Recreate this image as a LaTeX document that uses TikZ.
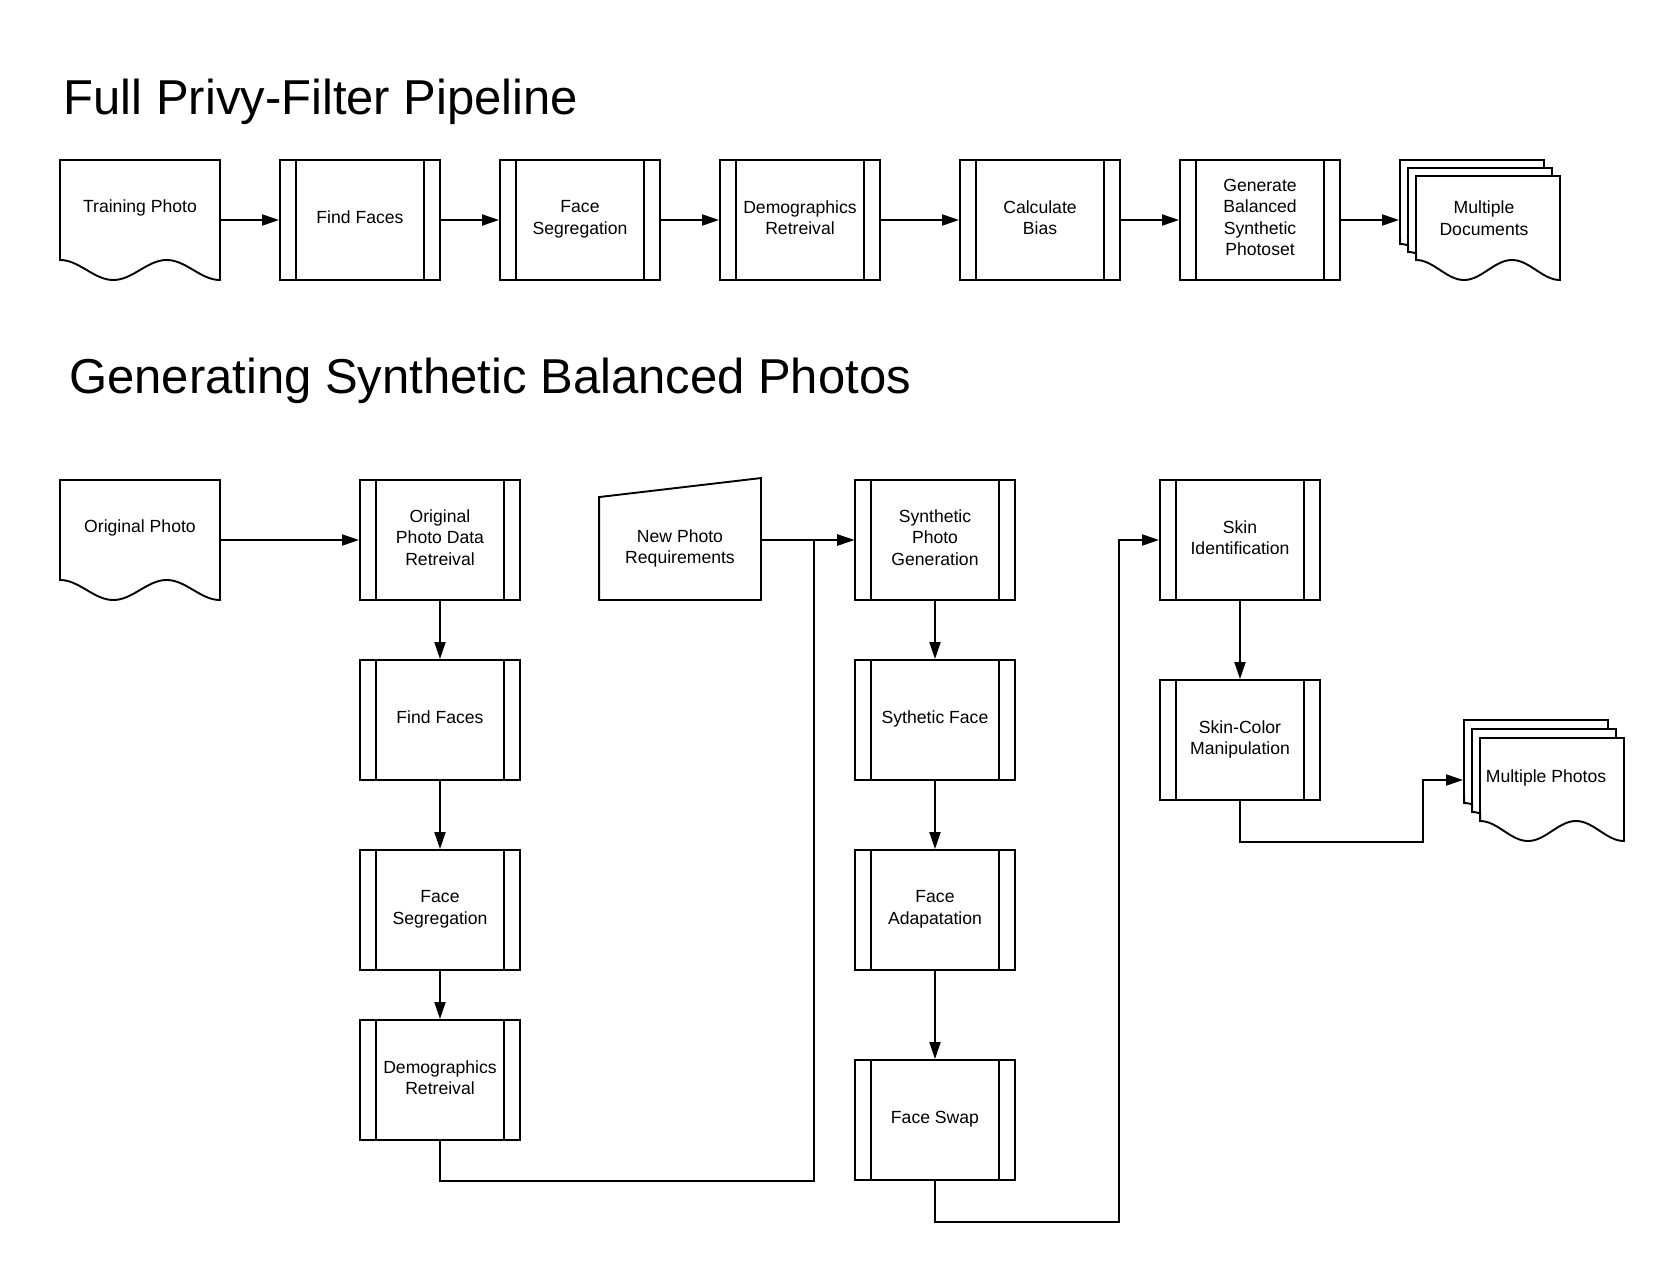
\documentclass[tikz,border=0pt]{standalone}
\usepackage{fontspec}
\setmainfont{Liberation Sans}
\usetikzlibrary{arrows.meta}
\newcommand\nodefont{\fontsize{17.6}{21.5}\selectfont}
\newcommand\titlefont{\fontsize{49}{58}\selectfont}
\tikzset{
  shapeline/.style={line width=1.9pt, line join=miter},
  procbox/.style={shapeline, draw, fill=white, minimum width=160pt, minimum height=120pt,
    inner sep=0pt, align=center, font=\nodefont, text depth=5pt,
    path picture={\draw[line width=1.9pt]
      ([xshift=16pt]path picture bounding box.north west) -- ([xshift=16pt]path picture bounding box.south west)
      ([xshift=-16pt]path picture bounding box.north east) -- ([xshift=-16pt]path picture bounding box.south east);}},
  conn/.style={line width=1.9pt},
  arr/.style={conn, -{Triangle[length=17pt,width=11pt]}},
  plain/.style={inner sep=0pt, align=center, font=\nodefont},
  area/.style={inner sep=0pt, minimum width=160pt, minimum height=120pt, outer sep=0.95pt},
  ttl/.style={anchor=base west, inner sep=0pt, font=\titlefont}
}
\newcommand\docsheet[4]{%
  \draw[shapeline, fill=white] (#1,#2) -- ({#1+#3},#2) -- ({#1+#3},{#2+#4})
    -- plot[domain=1:0, samples=61] ({#1+#3*\x},{#2+#4-10-10*cos(540*\x)}) -- cycle;}
\begin{document}
\begin{tikzpicture}[x=1pt, y=-1pt]
\useasboundingbox (0,0) rectangle (1665,1261);

% titles
\node[ttl] (t1) at (63.5,114) {Full Privy-Filter Pipeline};
\node[ttl] (t2) at (69,393) {Generating Synthetic Balanced Photos};

% ---------- top row ----------
\docsheet{60}{160}{160}{120}
\node[area] (tp) at (140,220) {};
\node[plain] (tpt) at (140,208) {Training Photo};
\node[procbox] (ff1) at (360,220) {Find Faces};
\node[procbox] (fs1) at (580,220) {Face\\Segregation};
\node[procbox] (dr1) at (800,220) {Demographics\\Retreival};
\node[procbox] (cb) at (1040,220) {Calculate\\Bias};
\node[procbox] (gb) at (1260,220) {Generate\\Balanced\\Synthetic\\Photoset};
\docsheet{1400}{160}{144}{104}
\docsheet{1408}{168}{144}{104}
\docsheet{1416}{176}{144}{104}
\node[area] (md) at (1480,220) {};
\node[plain] (mdt) at (1484,218) {Multiple\\Documents};

\draw[arr] (tp.east) -- (ff1.west);
\draw[arr] (ff1.east) -- (fs1.west);
\draw[arr] (fs1.east) -- (dr1.west);
\draw[arr] (dr1.east) -- (cb.west);
\draw[arr] (cb.east) -- (gb.west);
\draw[arr] (gb.east) -- (md.west);

% ---------- bottom section ----------
\docsheet{60}{480}{160}{120}
\node[area] (op) at (140,540) {};
\node[plain] (opt) at (140,528) {Original Photo};
\node[procbox] (opdr) at (440,540) {Original\\Photo Data\\Retreival};
\node[procbox] (ff2) at (440,720) {Find Faces};
\node[procbox] (fs2) at (440,910) {Face\\Segregation};
\node[procbox] (dr2) at (440,1080) {Demographics\\Retreival};

\node[plain, minimum width=160pt, minimum height=101pt, outer sep=0.95pt] (npr) at (680,548.5) {New Photo\\Requirements};
\draw[shapeline] (npr.south west) -- (npr.north west) -- ([yshift=19pt]npr.north east) -- (npr.south east) -- cycle;

\node[procbox] (spg) at (935,540) {Synthetic\\Photo\\Generation};
\node[procbox] (sf) at (935,720) {Sythetic Face};
\node[procbox] (fa) at (935,910) {Face\\Adapatation};
\node[procbox] (fsw) at (935,1120) {Face Swap};

\node[procbox] (si) at (1240,540) {Skin\\Identification};
\node[procbox] (scm) at (1240,740) {Skin-Color\\Manipulation};

\docsheet{1464}{720}{144}{103}
\docsheet{1472}{729}{144}{103}
\docsheet{1480}{738}{144}{103}
\node[area] (mp) at (1544,780) {};
\node[plain] (mpt) at (1546,778) {Multiple Photos};

\coordinate (j1) at (814,540);
\coordinate (j2) at (1119,540);
\coordinate (j3) at (1423,780);

\draw[arr] (op.east) -- (opdr.west);
\draw[arr] (opdr.south) -- (ff2.north);
\draw[arr] (ff2.south) -- (fs2.north);
\draw[arr] (fs2.south) -- (dr2.north);
\draw[arr] (dr2.south) -- ++(0,40) -| (j1) -- (spg.west);
\draw[arr] ([yshift=8.5pt]npr.east) -- (spg.west);
\draw[arr] (spg.south) -- (sf.north);
\draw[arr] (sf.south) -- (fa.north);
\draw[arr] (fa.south) -- (fsw.north);
\draw[arr] (fsw.south) -- ++(0,41) -| (j2) -- (si.west);
\draw[arr] (si.south) -- (scm.north);
\draw[arr] (scm.south) -- ++(0,41) -| (j3) -- (mp.west);
\end{tikzpicture}
\end{document}
